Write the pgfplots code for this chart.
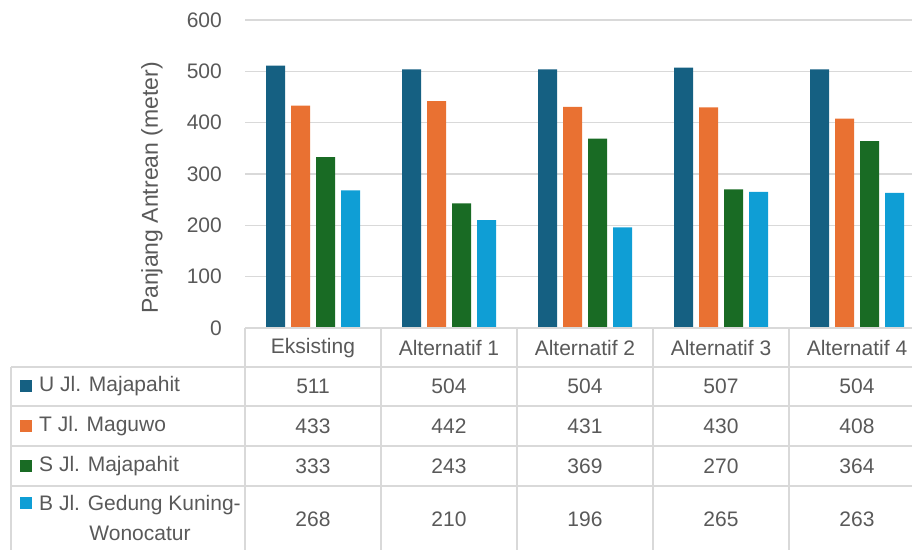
\documentclass[border=0pt]{standalone}
\usepackage{fontspec}
\setmainfont{Liberation Sans}
\usepackage{pgfplots}
\pgfplotsset{compat=1.18}
\definecolor{cU}{HTML}{156082}
\definecolor{cT}{HTML}{E97132}
\definecolor{cS}{HTML}{196B24}
\definecolor{cB}{HTML}{0F9ED5}
\definecolor{txt}{HTML}{595959}
\definecolor{gridc}{HTML}{D9D9D9}
\begin{document}
\begin{tikzpicture}[x=1pt,y=1pt]
\useasboundingbox (0,0) rectangle (912,550);
\begin{axis}[
  at={(245pt,222pt)}, anchor=south west,
  scale only axis, width=667pt, height=308pt,
  xmin=-0.5, xmax=4.404, ymin=0, ymax=600,
  ytick={0,100,...,600}, xtick=\empty,
  ymajorgrids, grid style={gridc, line width=1.5pt},
  axis line style={draw=none}, major tick length=0pt,
  /pgf/number format/assume math mode=true,
  yticklabel style={font=\fontsize{21}{21}\selectfont, text=txt, inner sep=0pt, anchor=east, xshift=-23pt},
  ybar=6pt, bar width=19pt,
  clip=false,
]
\addplot[fill=cU, draw=none] coordinates {(0,511) (1,504) (2,504) (3,507) (4,504)};
\addplot[fill=cT, draw=none] coordinates {(0,433) (1,442) (2,431) (3,430) (4,408)};
\addplot[fill=cS, draw=none] coordinates {(0,333) (1,243) (2,369) (3,270) (4,364)};
\addplot[fill=cB, draw=none] coordinates {(0,268) (1,210) (2,196) (3,265) (4,263)};
\end{axis}
% y axis title
\node[rotate=90, text=txt, font=\fontsize{23}{23}\selectfont] at (152,362) {Panjang Antrean (meter)};
% table lines
\begin{scope}[draw=gridc, line width=1.5pt]
\draw (245,222) -- (912,222);
\foreach \y in {183,144,104,64} \draw (11,\y) -- (912,\y);
\foreach \x in {245,381,517,653,789} \draw (\x,222) -- (\x,0);
\draw (11,183) -- (11,0);
\end{scope}
% headers
\foreach \x/\t in {313/Eksisting, 449/Alternatif 1, 585/Alternatif 2, 721/Alternatif 3, 857/Alternatif 4}
  \node[text=txt, font=\fontsize{21}{21}\selectfont] at (\x,202) {\t};
% row labels and keys
\fill[cU] (20,158) rectangle (32,170);
\node[anchor=west, text=txt, font=\fontsize{21}{21}\selectfont, inner sep=0pt] at (39,164) {U Jl. Majapahit};
\fill[cT] (20,118) rectangle (32,130);
\node[anchor=west, text=txt, font=\fontsize{21}{21}\selectfont, inner sep=0pt] at (39,124) {T Jl. Maguwo};
\fill[cS] (20,78) rectangle (32,90);
\node[anchor=west, text=txt, font=\fontsize{21}{21}\selectfont, inner sep=0pt] at (39,84) {S Jl. Majapahit};
\fill[cB] (20,41) rectangle (32,53);
\node[anchor=west, text=txt, font=\fontsize{21}{30}\selectfont, inner sep=0pt, align=center] at (39,32) {B Jl. Gedung Kuning-\\Wonocatur};
% values
\foreach \x/\a/\b/\c/\d in {313/511/433/333/268, 449/504/442/243/210, 585/504/431/369/196, 721/507/430/270/265, 857/504/408/364/263}{
  \node[text=txt, font=\fontsize{21}{21}\selectfont] at (\x,164) {\a};
  \node[text=txt, font=\fontsize{21}{21}\selectfont] at (\x,124) {\b};
  \node[text=txt, font=\fontsize{21}{21}\selectfont] at (\x,84) {\c};
  \node[text=txt, font=\fontsize{21}{21}\selectfont] at (\x,31) {\d};
}
\end{tikzpicture}
\end{document}
